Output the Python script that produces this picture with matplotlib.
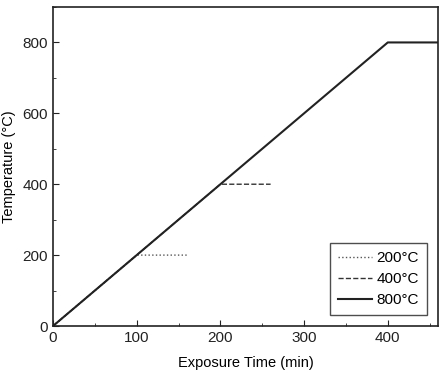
import matplotlib
matplotlib.use("Agg")
import matplotlib.pyplot as plt
from matplotlib.ticker import MultipleLocator

plt.rcParams['font.family'] = ['Liberation Sans', 'DejaVu Sans']

labels = ["200\u00b0C", "400\u00b0C", "800\u00b0C"]
times = [[0, 100, 160], [0, 200, 260], [0, 400, 460]]
temps = [[0, 200, 200], [0, 400, 400], [0, 800, 800]]
styles = [":", "--", "-"]
colors = ["#555555", "#333333", "#222222"]
widths = [1.0, 1.0, 1.5]

fig = plt.figure(figsize=(4.42, 3.74), dpi=100)
ax = fig.add_axes([53/442, 48/374, 385/442, 319/374])
for t, T, ls, c, lw, lab in zip(times, temps, styles, colors, widths, labels):
    ax.plot(t, T, linestyle=ls, color=c, linewidth=lw, label=lab)

ax.set_xlim(0, 460)
ax.set_ylim(0, 900)
ax.xaxis.set_major_locator(MultipleLocator(100))
ax.xaxis.set_minor_locator(MultipleLocator(50))
ax.yaxis.set_major_locator(MultipleLocator(200))
ax.yaxis.set_minor_locator(MultipleLocator(100))
ax.tick_params(which='both', direction='in', labelsize=11, colors='#222222')
ax.tick_params(which='major', length=4)
ax.tick_params(which='minor', length=2.5)
for s in ax.spines.values():
    s.set_linewidth(1.2)
    s.set_color('#222222')
ax.set_xlabel("Exposure Time (min)", fontsize=10.5, labelpad=8)
ax.set_ylabel("Temperature (\u00b0C)", fontsize=10.5, labelpad=5)
leg = ax.legend(loc='lower right', fontsize=11, fancybox=False, edgecolor='#222222',
                handlelength=2.2, borderaxespad=0.7, labelspacing=0.45,
                handletextpad=0.3, borderpad=0.55)
leg.get_frame().set_linewidth(1.0)
fig.savefig("out.png", dpi=100)
